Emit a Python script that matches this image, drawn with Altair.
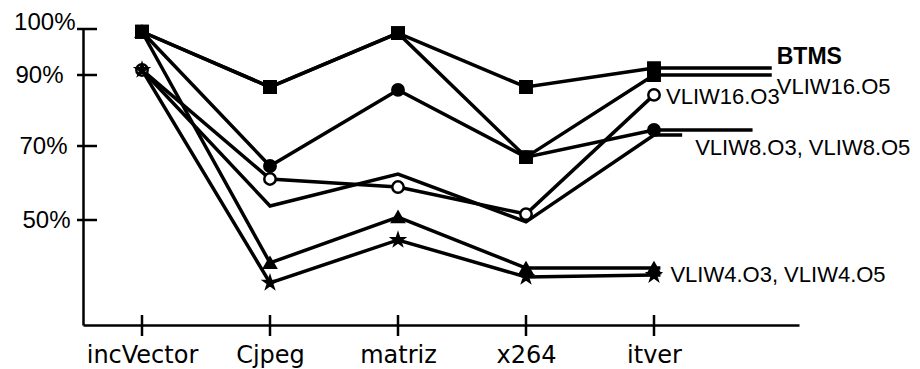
import altair as alt
import pandas as pd

# ---------------- data ----------------
categories = ["incVector", "Cjpeg", "matriz", "x264", "itver"]
series_names = ["BTMS", "VLIW16.O5", "VLIW16.O3", "VLIW8.O5", "VLIW8.O3", "VLIW4.O5", "VLIW4.O3"]
btms = [99.4, 86.6, 99.1, 86.6, 91.5]
vliw16_o5 = [99.4, 86.6, 99.1, 67.0, 90.0]
vliw16_o3 = [91.1, 61.1, 58.9, 51.6, 84.4]
vliw8_o5 = [99.4, 64.6, 85.8, 67.0, 74.5]
vliw8_o3 = [91.1, 53.8, 62.4, 49.5, 73.1]
vliw4_o5 = [99.4, 38.4, 50.8, 37.0, 37.0]
vliw4_o3 = [91.1, 33.0, 44.6, 34.6, 35.1]
y_ticks = [50, 70, 90, 100]
# end of each series' leader line towards its label (category-index units)
leader_end = [5.92, 5.92, 5.0, 5.77, 5.22, 5.05, 5.05]

all_values = [btms, vliw16_o5, vliw16_o3, vliw8_o5, vliw8_o3, vliw4_o5, vliw4_o3]

rows = []
for name, vals, end in zip(series_names, all_values, leader_end):
    for i, v in enumerate(vals):
        rows.append({"series": name, "x": i + 1, "y": v, "kind": "point"})
    rows.append({"series": name, "x": end, "y": vals[-1], "kind": "leader"})
df = pd.DataFrame(rows)

# ---------------- scales / axes ----------------
x_scale = alt.Scale(domain=[0.5391, 6.1328], nice=False, zero=False)
y_scale = alt.Scale(domain=[21.6, 50, 70, 90, 100], range=[296, 191, 117, 46, 0],
                    nice=False, zero=False)

label_expr = "[" + ",".join("'%s'" % c for c in categories) + "][datum.value - 1]"

x_axis = alt.Axis(values=[1, 2, 3, 4, 5], labelExpr=label_expr, ticks=False, grid=False,
                  domainColor="black", domainWidth=2.5, labelFont="DejaVu Sans",
                  labelFontSize=24, labelPadding=18, labelColor="black", title=None,
                  labelFlush=False, labelOverlap=False, labelBound=False)
y_axis = alt.Axis(values=y_ticks, labelExpr="datum.value + '%'", ticks=False, grid=False,
                  domainColor="black", domainWidth=2.5, labelFont="Liberation Sans",
                  labelFontSize=24, labelColor="black", title=None,
                  labelPadding={"condition": [{"test": "datum.value == 100", "value": 8},
                                              {"test": "datum.value == 90", "value": 20},
                                              {"test": "datum.value == 70", "value": 16}],
                                "value": 13},
                  labelBaseline={"condition": {"test": "datum.value == 100", "value": "alphabetic"},
                                 "value": "middle"},
                  labelFlush=False, labelOverlap=False)

X = alt.X("x:Q", scale=x_scale, axis=x_axis)
Y = alt.Y("y:Q", scale=y_scale, axis=y_axis)

# ---------------- layers ----------------
lines = alt.Chart(df).mark_line(color="black", strokeWidth=3.5).encode(
    x=X, y=Y, detail="series:N", order=alt.Order("x:Q")
)

star = ("M0,-1L0.2245,-0.309L0.951,-0.309L0.363,0.118L0.588,0.809L0,0.382"
        "L-0.588,0.809L-0.363,0.118L-0.951,-0.309L-0.2245,-0.309Z")
marker_series = ["BTMS", "VLIW16.O5", "VLIW16.O3", "VLIW8.O5", "VLIW4.O5", "VLIW4.O3"]
marker_shapes = ["square", "square", "circle", "circle", "triangle-up", star]
marker_fills = ["black", "black", "white", "black", "black", "black"]
marker_sizes = [130, 130, 100, 110, 130, 180]

markers = alt.Chart(df).transform_filter(
    "datum.kind == 'point' && datum.series != 'VLIW8.O3'"
).mark_point(filled=False, stroke="black", strokeWidth=2.5, opacity=1).encode(
    x=X, y=Y,
    shape=alt.Shape("series:N", scale=alt.Scale(domain=marker_series, range=marker_shapes), legend=None),
    fill=alt.Fill("series:N", scale=alt.Scale(domain=marker_series, range=marker_fills), legend=None),
    size=alt.Size("series:N", scale=alt.Scale(domain=marker_series, range=marker_sizes), legend=None),
)

ytick_df = pd.DataFrame({"y": y_ticks})
yticks = alt.Chart(ytick_df).mark_rule(color="black", strokeWidth=2.5).encode(
    y=Y, x=alt.value(-6), x2=alt.value(14)
)
xtick_df = pd.DataFrame({"x": [1, 2, 3, 4, 5]})
xticks = alt.Chart(xtick_df).mark_rule(color="black", strokeWidth=2.5).encode(
    x=X, y=alt.value(286), y2=alt.value(307)
)

# series labels: (text, anchor series, use leader end?, dx, dy, font size, bold)
label_specs = [
    ("BTMS", "BTMS", True, 5, -11, 23, True),
    ("VLIW16.O5", "VLIW16.O5", True, 5, 12, 22, False),
    ("VLIW16.O3", "VLIW16.O3", False, 12, 2, 22, False),
    ("VLIW8.O3, VLIW8.O5", "VLIW8.O3", True, 13, 13, 22, False),
    ("VLIW4.O3, VLIW4.O5", "VLIW4.O3", True, 10, 0, 22, False),
]
label_layers = []
for text, ser, use_end, dx, dy, fs, bold in label_specs:
    sub = df[(df.series == ser) & (df.kind == ("leader" if use_end else "point"))]
    sub = sub[sub.x == sub.x.max()].copy()
    sub["label"] = text
    label_layers.append(
        alt.Chart(sub).mark_text(align="left", baseline="middle", dx=dx, dy=dy,
                                 font="Liberation Sans", fontSize=fs,
                                 fontWeight="bold" if bold else "normal", color="black").encode(
            x=X, y=Y, text="label:N")
    )

chart = alt.layer(lines, yticks, xticks, markers, *label_layers).properties(
    width=716, height=296,
    autosize=alt.AutoSizeParams(type="none"),
    padding={"left": 75, "top": 21, "right": 113, "bottom": 50},
    background="white",
).configure_view(strokeWidth=0)

chart.save("out.html", embed_options={"renderer": "svg", "actions": False})
